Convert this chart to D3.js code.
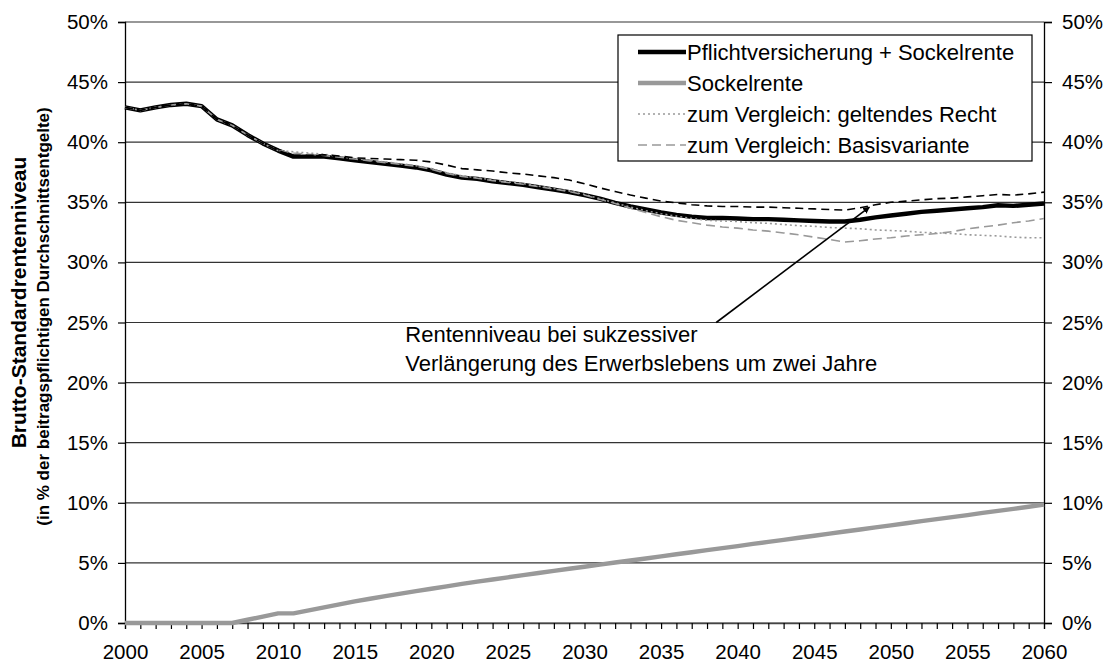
<!DOCTYPE html>
<html>
<head>
<meta charset="utf-8">
<script src="https://cdnjs.cloudflare.com/ajax/libs/d3/7.8.5/d3.min.js"></script>
<style>
  body { margin: 0; background: #fff; }
  text { font-family: "Liberation Sans", Arial, sans-serif; fill: #000; }
</style>
</head>
<body>
<div id="chart"></div>
<script>
// years 2000 .. 2060
var years = d3.range(2000, 2061);

// Pflichtversicherung + Sockelrente
var pflicht = [42.9, 42.65, 42.9, 43.1, 43.2, 43.0, 41.9, 41.4, 40.6, 39.9,
  39.3, 38.8, 38.8, 38.8, 38.65, 38.5, 38.35, 38.2, 38.05, 37.9,
  37.65, 37.3, 37.05, 36.95, 36.75, 36.6, 36.45, 36.25, 36.05, 35.85,
  35.6, 35.3, 34.95, 34.65, 34.4, 34.15, 33.95, 33.8, 33.7, 33.7,
  33.65, 33.6, 33.6, 33.55, 33.5, 33.45, 33.4, 33.4, 33.55, 33.75,
  33.9, 34.05, 34.2, 34.3, 34.4, 34.5, 34.6, 34.75, 34.7, 34.8,
  34.9];

// Sockelrente
var sockel = [0, 0, 0, 0, 0, 0, 0, 0, 0.27, 0.53,
  0.8, 0.8, 1.05, 1.3, 1.55, 1.8, 2.02, 2.24, 2.45, 2.65,
  2.85, 3.05, 3.25, 3.44, 3.62, 3.8, 3.98, 4.16, 4.34, 4.51,
  4.68, 4.86, 5.03, 5.2, 5.37, 5.54, 5.72, 5.89, 6.06, 6.23,
  6.4, 6.58, 6.75, 6.92, 7.09, 7.26, 7.44, 7.61, 7.78, 7.95,
  8.12, 8.3, 8.47, 8.64, 8.81, 8.98, 9.16, 9.33, 9.5, 9.67,
  9.85];

// zum Vergleich: geltendes Recht
var geltend = [42.9, 42.65, 42.9, 43.1, 43.2, 43.0, 41.9, 41.4, 40.6, 39.9,
  39.3, 39.2, 39.1, 39.0, 38.8, 38.65, 38.5, 38.35, 38.2, 38.05,
  37.8, 37.45, 37.2, 37.05, 36.85, 36.7, 36.55, 36.35, 36.15, 35.95,
  35.65, 35.3, 34.95, 34.6, 34.3, 34.05, 33.85, 33.65, 33.5, 33.45,
  33.4, 33.3, 33.25, 33.15, 33.05, 33.0, 32.9, 32.85, 32.8, 32.7,
  32.65, 32.6, 32.5, 32.45, 32.4, 32.3, 32.25, 32.2, 32.1, 32.05,
  32.05];

// zum Vergleich: Basisvariante
var basis = [42.9, 42.65, 42.9, 43.1, 43.2, 43.0, 41.9, 41.4, 40.6, 39.9,
  39.3, 39.1, 39.0, 38.9, 38.75, 38.6, 38.45, 38.3, 38.15, 38.0,
  37.75, 37.4, 37.15, 37.0, 36.8, 36.65, 36.5, 36.3, 36.1, 35.9,
  35.6, 35.25, 34.9, 34.5, 34.15, 33.8, 33.5, 33.3, 33.1, 32.95,
  32.85, 32.7, 32.6, 32.45, 32.3, 32.1, 31.9, 31.7, 31.8, 31.95,
  32.05, 32.2, 32.3, 32.4, 32.55, 32.8, 32.95, 33.1, 33.3, 33.45,
  33.65];

// Rentenniveau bei sukzessiver Verlaengerung des Erwerbslebens
var verlaengert = [42.9, 42.65, 42.9, 43.1, 43.2, 43.0, 41.9, 41.4, 40.6, 39.9,
  39.3, 38.9, 38.9, 38.95, 38.85, 38.7, 38.65, 38.6, 38.55, 38.5,
  38.35, 38.1, 37.8, 37.7, 37.6, 37.45, 37.35, 37.2, 37.05, 36.85,
  36.55, 36.2, 35.9, 35.6, 35.35, 35.1, 34.95, 34.8, 34.7, 34.65,
  34.65, 34.6, 34.6, 34.55, 34.5, 34.45, 34.4, 34.35, 34.55, 34.8,
  35.0, 35.1, 35.2, 35.3, 35.35, 35.45, 35.55, 35.65, 35.6, 35.7,
  35.85];

var yTicks = d3.range(0, 51, 5);
var legendLabels = ["Pflichtversicherung + Sockelrente", "Sockelrente",
  "zum Vergleich: geltendes Recht", "zum Vergleich: Basisvariante"];
var noteLines = ["Rentenniveau bei sukzessiver",
  "Verlängerung des Erwerbslebens um zwei Jahre"];
var notePos = [2018.3, 24.0];        // year, percent
var arrowFrom = [2038.6, 25.0], arrowTo = [2048.6, 34.6];

// set the dimensions and margins of the graph
var margin = {top: 22, right: 70, bottom: 43, left: 125},
    width = 1114 - margin.left - margin.right,
    height = 666 - margin.top - margin.bottom;

var svg = d3.select("#chart")
    .append("svg")
    .attr("width", 1114)
    .attr("height", 666)
    .append("g")
    .attr("transform", "translate(" + margin.left + "," + margin.top + ")");

var x = d3.scaleLinear().domain([2000, 2060]).range([0, width]);
var y = d3.scaleLinear().domain([0, 50]).range([height, 0]);

// horizontal gridlines
svg.append("g")
    .selectAll("line")
    .data(yTicks)
    .enter()
    .append("line")
    .attr("x1", 0)
    .attr("x2", width)
    .attr("y1", function(d) { return y(d); })
    .attr("y2", function(d) { return y(d); })
    .attr("stroke", "#333")
    .attr("stroke-width", 1.2);

// left axis
var leftAxis = svg.append("g")
    .call(d3.axisLeft(y).tickValues(yTicks).tickSize(7).tickPadding(10)
        .tickFormat(function(d) { return d + "%"; }));

// right axis
var rightAxis = svg.append("g")
    .attr("transform", "translate(" + width + ",0)")
    .call(d3.axisRight(y).tickValues(yTicks).tickSize(8).tickPadding(10)
        .tickFormat(function(d) { return d + "%"; }));

// bottom axis, one tick per year, labels every 5 years
var bottomAxis = svg.append("g")
    .attr("transform", "translate(0," + height + ")")
    .call(d3.axisBottom(x).tickValues(years).tickSize(6).tickPadding(15)
        .tickFormat(function(d) { return d % 5 === 0 ? d : ""; }));

[leftAxis, rightAxis, bottomAxis].forEach(function(a) {
    a.select(".domain").attr("stroke", "#000").attr("stroke-width", 1.3);
    a.selectAll(".tick line").attr("stroke", "#000").attr("stroke-width", 1.2);
    a.selectAll("text")
        .style("font-family", "'Liberation Sans', Arial, sans-serif")
        .style("font-size", "20.5px")
        .attr("fill", "#000");
});
bottomAxis.select(".domain").attr("stroke", "#444");

// line generator
var line = d3.line()
    .x(function(d, i) { return x(years[i]); })
    .y(function(d) { return y(d); });

var series = [
    {values: pflicht, stroke: "#000", width: 4.4, dash: null},
    {values: sockel, stroke: "#999", width: 4.4, dash: null},
    {values: geltend, stroke: "#999", width: 1.6, dash: "2,3"},
    {values: basis, stroke: "#999", width: 1.6, dash: "9,5"},
    {values: verlaengert, stroke: "#000", width: 1.6, dash: "8,5"}
];

svg.append("g")
    .selectAll("path")
    .data(series)
    .enter()
    .append("path")
    .attr("d", function(d) { return line(d.values); })
    .attr("fill", "none")
    .attr("stroke", function(d) { return d.stroke; })
    .attr("stroke-width", function(d) { return d.width; })
    .attr("stroke-dasharray", function(d) { return d.dash; })
    .attr("stroke-linejoin", "round");

// annotation arrow
svg.append("defs").append("marker")
    .attr("id", "arrowhead")
    .attr("viewBox", "0 0 10 10")
    .attr("refX", 9)
    .attr("refY", 5)
    .attr("markerWidth", 7)
    .attr("markerHeight", 7)
    .attr("markerUnits", "userSpaceOnUse")
    .attr("orient", "auto")
    .append("path")
    .attr("d", "M0,0 L10,5 L0,10 z")
    .attr("fill", "#000");

svg.append("line")
    .attr("x1", x(arrowFrom[0]))
    .attr("y1", y(arrowFrom[1]))
    .attr("x2", x(arrowTo[0]))
    .attr("y2", y(arrowTo[1]))
    .attr("stroke", "#000")
    .attr("stroke-width", 1.6)
    .attr("marker-end", "url(#arrowhead)");

svg.append("g")
    .selectAll("text")
    .data(noteLines)
    .enter()
    .append("text")
    .attr("x", x(notePos[0]))
    .attr("y", function(d, i) { return y(notePos[1]) + i * 29; })
    .attr("dy", "0.35em")
    .style("font-size", "22px")
    .text(function(d) { return d; });

// legend
var legend = svg.append("g")
    .attr("transform", "translate(" + (618 - margin.left) + "," + (35 - margin.top) + ")");

legend.append("rect")
    .attr("width", 414)
    .attr("height", 126)
    .attr("fill", "#fff")
    .attr("stroke", "#000")
    .attr("stroke-width", 1.2);

var legendItems = legend.selectAll("g.item")
    .data(series.slice(0, 4).map(function(s, i) {
        return {label: legendLabels[i], stroke: s.stroke, width: s.width, dash: s.dash};
    }))
    .enter()
    .append("g")
    .attr("class", "item")
    .attr("transform", function(d, i) { return "translate(0," + (17 + i * 31) + ")"; });

legendItems.append("line")
    .attr("x1", 20)
    .attr("x2", 68)
    .attr("stroke", function(d) { return d.stroke; })
    .attr("stroke-width", function(d) { return d.width; })
    .attr("stroke-dasharray", function(d) { return d.dash; });

legendItems.append("text")
    .attr("x", 69)
    .attr("dy", "0.35em")
    .style("font-size", "22px")
    .text(function(d) { return d.label; });

// y axis title
var title = svg.append("g")
    .attr("transform", "translate(" + (-margin.left) + "," + (height / 2) + ") rotate(-90)");

title.append("text")
    .attr("x", 20)
    .attr("y", 26)
    .attr("text-anchor", "middle")
    .style("font-size", "21px")
    .style("font-weight", "bold")
    .text("Brutto-Standardrentenniveau");

title.append("text")
    .attr("x", 6)
    .attr("y", 49)
    .attr("text-anchor", "middle")
    .style("font-size", "17px")
    .style("font-weight", "bold")
    .text("(in % der beitragspflichtigen Durchschnittsentgelte)");
</script>
</body>
</html>
